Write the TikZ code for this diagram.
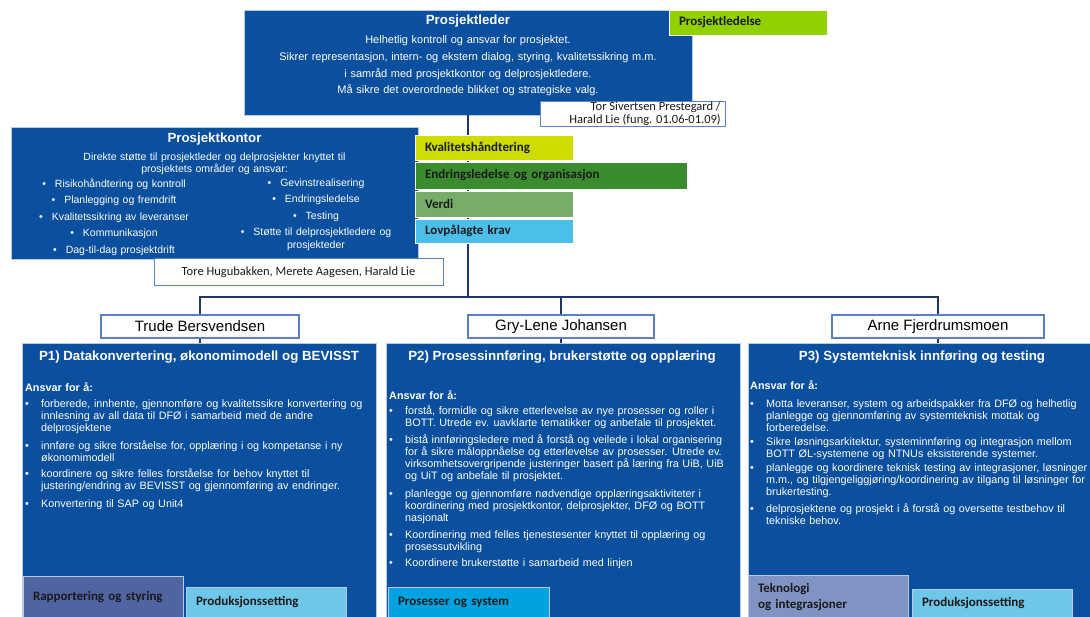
\documentclass[tikz,border=0pt]{standalone}
\usepackage{fontspec}
\setmainfont{Liberation Sans}
\newfontfamily\calfont{Carlito}
\newfontfamily\widefont[WordSpace=1.5]{Liberation Sans}
\newfontfamily\plfont[WordSpace=1.2]{Liberation Sans}
\definecolor{mainblue}{HTML}{0B4F9F}
\definecolor{boxedge}{HTML}{B9C9E4}
\definecolor{connc}{HTML}{1F3763}
\definecolor{personedge}{HTML}{5B80C4}
\definecolor{tagtext}{HTML}{1A1A1A}
\definecolor{limegreen}{HTML}{92D000}
\definecolor{yellowgreen}{HTML}{CEDC00}
\definecolor{darkgreen}{HTML}{3B8C2F}
\definecolor{midgreen}{HTML}{76AE69}
\definecolor{skyblue}{HTML}{4BBEE9}
\definecolor{slateblue}{HTML}{5064A2}
\definecolor{lightcyan}{HTML}{6EC6E8}
\definecolor{brightcyan}{HTML}{00A3E0}
\definecolor{greyblue}{HTML}{8093C2}
\newcommand{\bul}{\makebox[16pt][l]{•}}
\newcommand{\ind}{\hspace*{16pt}}
\begin{document}
\begin{tikzpicture}[x=1pt,y=-1pt,
  bluebox/.style={rectangle, fill=mainblue, draw=boxedge, line width=0.8pt, inner sep=0pt},
  conn/.style={draw=connc, line width=1.2pt},
  tagbox/.style={rectangle, draw=white, line width=0.8pt, inner ysep=0pt, inner xsep=10pt, align=left, text=tagtext, font=\calfont\bfseries\fontsize{13}{15}\selectfont},
  namebox/.style={rectangle, fill=white, draw=personedge, line width=1.2pt, inner sep=0pt},
  persontext/.style={font=\fontsize{15}{17}\selectfont, text=black},
  titletext/.style={text=white, font=\bfseries\fontsize{13.3}{15}\selectfont, inner sep=0pt},
  bodytext/.style={text=white, inner sep=0pt, font=\widefont\fontsize{10.5}{12}\selectfont},
  pbody/.style={text=white, inner sep=0pt, align=left, anchor=north west, font=\widefont\fontsize{10.8}{12}\selectfont},
  calname/.style={text=tagtext, inner sep=0pt, font=\calfont\fontsize{12.5}{13}\selectfont}
]
\useasboundingbox (0,0) rectangle (1090,617);
\fill[white] (0,0) rectangle (1090,617);

% boxes used by connectors
\node[bluebox, minimum width=448pt, minimum height=105pt] (pl) at (468,62.5) {};
\coordinate (bus) at (468,297);
\node[namebox, minimum width=198pt, minimum height=23pt] (trude) at (200,326.5) {};
\node[namebox, minimum width=186pt, minimum height=23pt] (gry) at (561,326.5) {};
\node[namebox, minimum width=212pt, minimum height=23pt] (arne) at (938,326.5) {};
\node[bluebox, minimum width=354pt, minimum height=276pt] (p1) at (199,481) {};
\node[bluebox, minimum width=354pt, minimum height=276pt] (p2) at (563,481) {};
\node[bluebox, minimum width=354pt, minimum height=276pt] (p3) at (925,481) {};
\draw[conn] (pl.south) -- (bus);
\draw[conn] (bus) -| (trude.north);
\draw[conn] (bus) -| (gry.north);
\draw[conn] (bus) -| (arne.north);
\draw[conn] (trude.south) -- (trude.south |- p1.north);
\draw[conn] (gry.south) -- (gry.south |- p2.north);
\draw[conn] (arne.south) -- (arne.south |- p3.north);

% Prosjektleder
\node[titletext] (pltitle) at (468,21) {Prosjektleder};
\node[text=white, inner sep=0pt, align=center, anchor=north, font=\plfont\fontsize{11}{16.7}\selectfont] (plbody) at (468,35.5)
  {Helhetlig kontroll og ansvar for prosjektet.\\
   Sikrer representasjon, intern- og ekstern dialog, styring, kvalitetssikring m.m.\\
   i samråd med prosjektkontor og delprosjektledere.\\
   Må sikre det overordnede blikket og strategiske valg.};
\node[tagbox, fill=limegreen, minimum height=25pt, text width=138pt] (plled) at (748,22.5) {Prosjektledelse};
\node[namebox, line width=1pt, minimum width=185pt, minimum height=25pt] (plnames) at (632.5,114.5) {};
\node[calname, align=right, anchor=north east] (plnamestext) at (721,101.5)
  {Tor Sivertsen Prestegard /\\Harald Lie (fung. 01.06-01.09)};

% Prosjektkontor
\node[bluebox, minimum width=407pt, minimum height=132pt] (pk) at (214.5,193) {};
\node[titletext] (pktitle) at (214.5,139) {Prosjektkontor};
\node[bodytext, align=center, anchor=north] (pkintro) at (214.5,152.5)
  {Direkte støtte til prosjektleder og delprosjekter knyttet til\\prosjektets områder og ansvar:};
\node[bodytext, align=center, anchor=north, font=\widefont\fontsize{10.5}{16.5}\selectfont] (pkleft) at (114,178.5)
  {•\hspace{9pt}Risikohåndtering og kontroll\\
   •\hspace{9pt}Planlegging og fremdrift\\
   •\hspace{9pt}Kvalitetssikring av leveranser\\
   •\hspace{9pt}Kommunikasjon\\
   •\hspace{9pt}Dag-til-dag prosjektdrift};
\node[bodytext, align=center, anchor=north, font=\widefont\fontsize{10.5}{16.5}\selectfont] (pkright) at (316,178.5)
  {•\hspace{9pt}Gevinstrealisering\\
   •\hspace{9pt}Endringsledelse\\
   •\hspace{9pt}Testing\\
   •\hspace{9pt}Støtte til delprosjektledere og\\[-4pt]
   prosjekteder};
\node[namebox, line width=1pt, minimum width=289pt, minimum height=27pt] (pknames) at (298.5,272.5) {};
\node[calname] (pknamestext) at (298.5,272.5) {Tore Hugubakken, Merete Aagesen, Harald Lie};

% tags
\node[tagbox, fill=yellowgreen, minimum height=25pt, text width=138pt] (kval) at (494,147.5) {Kvalitetshåndtering};
\node[tagbox, fill=darkgreen, minimum height=27pt, text width=252pt] (endr) at (551,175.5) {Endringsledelse og organisasjon};
\node[tagbox, fill=midgreen, minimum height=26pt, text width=138pt] (verdi) at (494,204) {Verdi};
\node[tagbox, fill=skyblue, minimum height=24pt, text width=138pt] (lov) at (494,231) {Lovpålagte krav};

% person names
\node[persontext] (trudetext) at (trude) {Trude Bersvendsen};
\node[persontext] (grytext) at (gry) {Gry-Lene Johansen};
\node[persontext] (arnetext) at (arne) {Arne Fjerdrumsmoen};

% P headers
\node[titletext] (p1head) at (199,357) {P1) Datakonvertering, økonomimodell og BEVISST};
\node[titletext] (p2head) at (562,357) {P2) Prosessinnføring, brukerstøtte og opplæring};
\node[titletext] (p3head) at (922,357) {P3) Systemteknisk innføring og testing};

% P1 body
\node[pbody] (p1body) at (25,382.5)
  {\textbf{Ansvar for å:}\\[4pt]
   \bul forberede, innhente, gjennomføre og kvalitetssikre konvertering og\\
   \ind innlesning av all data til DFØ i samarbeid med de andre\\
   \ind delprosjektene\\[6pt]
   \bul innføre og sikre forståelse for, opplæring i og kompetanse i ny\\
   \ind økonomimodell\\[4pt]
   \bul koordinere og sikre felles forståelse for behov knyttet til\\
   \ind justering/endring av BEVISST og gjennomføring av endringer.\\[6pt]
   \bul Konvertering til SAP og Unit4};

% P2 body
\node[pbody] (p2body) at (389,390.5)
  {\textbf{Ansvar for å:}\\[3pt]
   \bul forstå, formidle og sikre etterlevelse av nye prosesser og roller i\\
   \ind BOTT. Utrede ev. uavklarte tematikker og anbefale til prosjektet.\\[5pt]
   \bul bistå innføringsledere med å forstå og veilede i lokal organisering\\
   \ind for å sikre måloppnåelse og etterlevelse av prosesser. Utrede ev.\\
   \ind virksomhetsovergripende justeringer basert på læring fra UiB, UiB\\
   \ind og UiT og anbefale til prosjektet.\\[6pt]
   \bul planlegge og gjennomføre nødvendige opplæringsaktiviteter i\\
   \ind koordinering med prosjektkontor, delprosjekter, DFØ og BOTT\\
   \ind nasjonalt\\[5pt]
   \bul Koordinering med felles tjenestesenter knyttet til opplæring og\\
   \ind prosessutvikling\\[4pt]
   \bul Koordinere brukerstøtte i samarbeid med linjen};

% P3 body
\node[pbody] (p3body) at (750,380.5)
  {\textbf{Ansvar for å:}\\[6pt]
   \bul Motta leveranser, system og arbeidspakker fra DFØ og helhetlig\\
   \ind planlegge og gjennomføring av systemteknisk mottak og\\
   \ind forberedelse.\\[2pt]
   \bul Sikre løsningsarkitektur, systeminnføring og integrasjon mellom\\
   \ind BOTT ØL-systemene og NTNUs eksisterende systemer.\\[2pt]
   \bul planlegge og koordinere teknisk testing av integrasjoner, løsninger\\
   \ind m.m., og tilgjengeliggjøring/koordinering av tilgang til løsninger for\\
   \ind brukertesting.\\[5pt]
   \bul delprosjektene og prosjekt i å forstå og oversette testbehov til\\
   \ind tekniske behov.};

% bottom tags
\node[tagbox, fill=slateblue, draw=boxedge, minimum height=42pt, text width=140pt] (rapp) at (103,597) {Rapportering og styring};
\node[tagbox, fill=lightcyan, draw=boxedge, minimum height=31pt, text width=140pt] (prod1) at (266,602.5) {Produksjonssetting};
\node[tagbox, fill=brightcyan, draw=boxedge, minimum height=31pt, text width=141pt] (prosys) at (468.5,602.5) {Prosesser og system};
\node[tagbox, fill=greyblue, draw=boxedge, minimum height=43pt, text width=140pt, font=\calfont\bfseries\fontsize{13}{16}\selectfont] (tekn) at (828,597) {Teknologi\\og integrasjoner};
\node[tagbox, fill=lightcyan, draw=boxedge, minimum height=29pt, text width=140pt] (prod3) at (992,603.5) {Produksjonssetting};
\end{tikzpicture}
\end{document}
